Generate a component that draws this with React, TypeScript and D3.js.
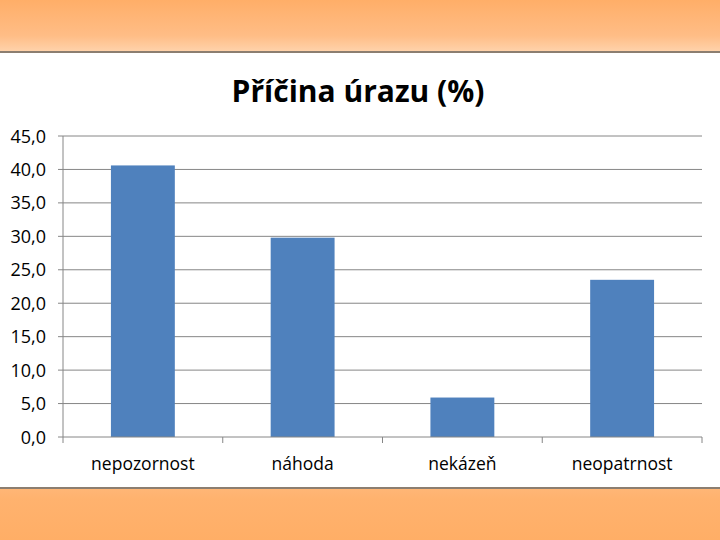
import React from "react";
import * as d3 from "d3";

const categories = ["nepozornost", "náhoda", "nekázeň", "neopatrnost"];
const values = [40.6, 29.8, 5.9, 23.5];
const yTicks = [0, 5, 10, 15, 20, 25, 30, 35, 40, 45];
const title = "Příčina úrazu (%)";

export default function App() {
  const W = 720, H = 540;
  const left = 63, right = 702, top = 136, bottom = 437;
  const x = d3.scaleBand<string>().domain(categories).range([left, right]).paddingInner(0.6).paddingOuter(0.3);
  const xb = d3.scaleBand<string>().domain(categories).range([left, right]);
  const y = d3.scaleLinear().domain([0, 45]).range([bottom, top]);
  const fmt = (v: number) => v.toFixed(1).replace(".", ",");
  const font = "'Open Sans', 'Noto Sans', sans-serif";
  return (
    <svg width={W} height={H} style={{ position: "absolute", left: 0, top: 0 }}>
      <defs>
        <linearGradient id="topg" x1="0" y1="0" x2="0" y2="1">
          <stop offset="0" stopColor="#ffae68" />
          <stop offset="0.7" stopColor="#ffbd86" />
          <stop offset="1" stopColor="#ffd2aa" />
        </linearGradient>
        <linearGradient id="botg" x1="0" y1="0" x2="0" y2="1">
          <stop offset="0" stopColor="#ffb676" />
          <stop offset="0.2" stopColor="#ffb26e" />
          <stop offset="1" stopColor="#ffae66" />
        </linearGradient>
      </defs>
      <rect x={0} y={0} width={W} height={H} fill="#ffffff" />
      <rect x={0} y={0} width={W} height={51} fill="url(#topg)" />
      <rect x={0} y={51} width={W} height={2} fill="#8c7e70" />
      <rect x={0} y={487} width={W} height={2} fill="#8c7e70" />
      <rect x={0} y={489} width={W} height={51} fill="url(#botg)" />
      <text x={358} y={102} textAnchor="middle" fontFamily={font} fontWeight="bold" fontSize={30} fill="#000">{title}</text>
      {yTicks.map((t) => (
        <g key={t}>
          {t > 0 && <line x1={left} x2={right} y1={y(t)} y2={y(t)} stroke="#868686" strokeWidth={1} />}
          <line x1={left - 5} x2={left} y1={y(t)} y2={y(t)} stroke="#868686" strokeWidth={1} />
          <text x={46} y={y(t) + 6.5} textAnchor="end" fontFamily={font} fontSize={18} fill="#000">{fmt(t)}</text>
        </g>
      ))}
      <line x1={left} x2={left} y1={top} y2={bottom} stroke="#868686" strokeWidth={1} />
      {categories.map((c, i) => (
        <rect key={c} x={x(c)} y={y(values[i])} width={x.bandwidth()} height={bottom - y(values[i])} fill="#4f81bd" />
      ))}
      <line x1={left} x2={right} y1={bottom} y2={bottom} stroke="#868686" strokeWidth={1} />
      {[...categories.map((c) => xb(c) as number), right].map((p, i) => (
        <line key={i} x1={p} x2={p} y1={bottom} y2={bottom + 6} stroke="#868686" strokeWidth={1} />
      ))}
      {categories.map((c) => (
        <text key={c} x={(xb(c) as number) + xb.bandwidth() / 2} y={470} textAnchor="middle" fontFamily={font} fontSize={17.5} fill="#000">{c}</text>
      ))}
    </svg>
  );
}
